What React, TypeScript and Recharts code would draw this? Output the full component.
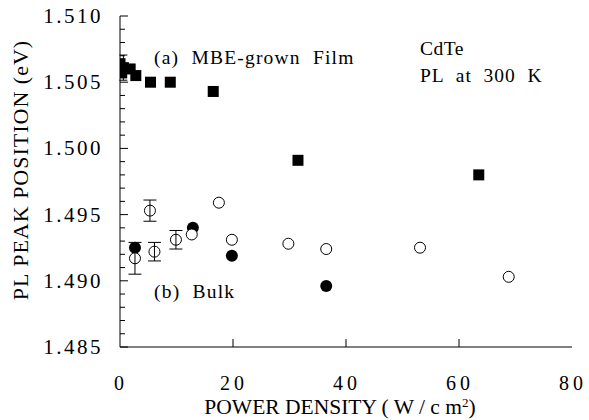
import React from 'react';
import { ScatterChart, Scatter, XAxis, YAxis, ErrorBar } from 'recharts';

const FONT = "'Liberation Serif', 'DejaVu Serif', serif";

// Axis ticks
const xTicks = [0, 20, 40, 60, 80];
const xMinorOnly = [20, 40, 60];
const yTicks = [
  1.485, 1.486, 1.487, 1.488, 1.489, 1.49, 1.491, 1.492, 1.493, 1.494, 1.495,
  1.496, 1.497, 1.498, 1.499, 1.5, 1.501, 1.502, 1.503, 1.504, 1.505, 1.506,
  1.507, 1.508, 1.509, 1.51,
];
const yLabelTicks = ['1.485', '1.490', '1.495', '1.500', '1.505', '1.510'];

// (a) MBE-grown film (filled squares)
const filmX = [0.0, 0.3, 1.8, 2.8, 5.4, 8.9, 16.5, 31.5, 63.5];
const filmY = [1.5064, 1.5057, 1.506, 1.5055, 1.505, 1.505, 1.5043, 1.4991, 1.498];
const filmErrX = [0.6];
const filmErrY = [1.5061];
const filmErrV = [0.00095];

// (b) Bulk: filled circles
const bulkFilledX = [2.65, 12.9, 19.8, 36.5];
const bulkFilledY = [1.4925, 1.494, 1.4919, 1.4896];

// (b) Bulk: open circles
const bulkOpenX = [12.7, 17.5, 19.8, 29.8, 36.5, 53.1, 68.8];
const bulkOpenY = [1.4935, 1.4959, 1.4931, 1.4928, 1.4924, 1.4925, 1.4903];

// (b) Bulk: open circles with error bars
const bulkErrX = [2.65, 5.3, 6.1, 9.9];
const bulkErrY = [1.4917, 1.4953, 1.4922, 1.4931];
const bulkErrV = [0.0012, 0.0008, 0.0007, 0.0007];

const film = filmX.map((x, i) => ({ x, y: filmY[i] }));
const filmErr = filmErrX.map((x, i) => ({ x, y: filmErrY[i], err: filmErrV[i] }));
const bulkFilled = bulkFilledX.map((x, i) => ({ x, y: bulkFilledY[i] }));
const bulkOpen = bulkOpenX.map((x, i) => ({ x, y: bulkOpenY[i] }));
const bulkErr = bulkErrX.map((x, i) => ({ x, y: bulkErrY[i], err: bulkErrV[i] }));

const SquareShape = (p: any) => (
  <rect x={p.cx - 5.5} y={p.cy - 5.5} width={11} height={11} fill="#000" />
);
const FilledCircle = (p: any) => <circle cx={p.cx} cy={p.cy} r={6} fill="#000" />;
const OpenCircle = (p: any) => (
  <circle cx={p.cx} cy={p.cy} r={5.5} fill="#fff" stroke="#000" strokeWidth={1} />
);
const OpenCircleBar = (p: any) => (
  <g>
    <circle cx={p.cx} cy={p.cy} r={5.5} fill="#fff" stroke="#000" strokeWidth={1} />
    <line x1={p.cx} x2={p.cx} y1={p.cy - 5.5} y2={p.cy + 5.5} stroke="#000" strokeWidth={1} />
  </g>
);

const isMajorY = (v: number) => Math.round(v * 1000) % 5 === 0;

const txt = { fontFamily: FONT } as React.CSSProperties;

const LeftTick = (p: any) => {
  const v = p.payload.value;
  const major = isMajorY(v);
  return (
    <g>
      <line x1={p.x} x2={p.x + (major ? 8 : 5)} y1={p.y} y2={p.y} stroke="#000" strokeWidth={1} />
      {major && (
        <text
          x={p.x - 17}
          y={p.y + 7}
          textAnchor="end"
          fontFamily="Liberation Serif"
          style={txt}
          fontSize={21}
          letterSpacing={2.5}
          fill="#000"
        >
          {yLabelTicks.find((s) => Math.abs(parseFloat(s) - v) < 1e-6)}
        </text>
      )}
    </g>
  );
};

const RightTick = (p: any) => {
  const v = p.payload.value;
  const major = isMajorY(v);
  return (
    <line x1={p.x} x2={p.x - (major ? 8 : 5)} y1={p.y} y2={p.y} stroke="#000" strokeWidth={1} />
  );
};

const BottomTick = (p: any) => {
  const v = p.payload.value;
  return (
    <g>
      {xMinorOnly.includes(v) && (
        <line x1={p.x} x2={p.x} y1={p.y} y2={p.y - 8} stroke="#000" strokeWidth={1} />
      )}
      <text
        x={p.x + 1}
        y={p.y + 43}
        textAnchor="middle"
        fontFamily="Liberation Serif"
        style={txt}
        fontSize={20}
        letterSpacing={4}
        fill="#000"
      >
        {String(v)}
      </text>
    </g>
  );
};

const TopTick = (p: any) => {
  const v = p.payload.value;
  if (!xMinorOnly.includes(v)) return <g />;
  return <line x1={p.x} x2={p.x} y1={p.y} y2={p.y + 8} stroke="#000" strokeWidth={1} />;
};

export default function App() {
  return (
    <div style={{ position: 'absolute', left: 0, top: 0, width: 589, height: 420, background: '#fff' }}>
      <ScatterChart
        width={589}
        height={420}
        margin={{ top: 16, right: 17, left: 0, bottom: 0 }}
      >
        <XAxis
          xAxisId="b"
          type="number"
          dataKey="x"
          orientation="bottom"
          domain={[0, 80]}
          ticks={xTicks}
          interval={0}
          height={73}
          tickSize={0}
          tickMargin={0}
          tickLine={false}
          axisLine={{ stroke: '#000', strokeWidth: 1 }}
          tick={BottomTick}
          allowDataOverflow
        />
        <XAxis
          xAxisId="t"
          type="number"
          orientation="top"
          domain={[0, 80]}
          ticks={xTicks}
          interval={0}
          height={0}
          tickSize={0}
          tickMargin={0}
          tickLine={false}
          axisLine={{ stroke: '#000', strokeWidth: 1 }}
          tick={TopTick}
          allowDataOverflow
        />
        <YAxis
          yAxisId="l"
          type="number"
          dataKey="y"
          orientation="left"
          domain={[1.485, 1.51]}
          ticks={yTicks}
          interval={0}
          width={120}
          tickSize={0}
          tickMargin={0}
          tickLine={false}
          axisLine={{ stroke: '#000', strokeWidth: 1 }}
          tick={LeftTick}
          allowDataOverflow
        />
        <YAxis
          yAxisId="r"
          type="number"
          orientation="right"
          domain={[1.485, 1.51]}
          ticks={yTicks}
          interval={0}
          width={0}
          tickSize={0}
          tickMargin={0}
          tickLine={false}
          axisLine={{ stroke: '#000', strokeWidth: 1 }}
          tick={RightTick}
          allowDataOverflow
        />
        <Scatter xAxisId="b" yAxisId="l" data={filmErr} shape={SquareShape} isAnimationActive={false}>
          <ErrorBar dataKey="err" direction="y" width={4} stroke="#000" strokeWidth={1} />
        </Scatter>
        <Scatter xAxisId="b" yAxisId="l" data={film} shape={SquareShape} isAnimationActive={false} />
        <Scatter xAxisId="b" yAxisId="l" data={bulkFilled} shape={FilledCircle} isAnimationActive={false} />
        <Scatter xAxisId="b" yAxisId="l" data={bulkOpen} shape={OpenCircle} isAnimationActive={false} />
        <Scatter xAxisId="b" yAxisId="l" data={bulkErr} shape={OpenCircleBar} isAnimationActive={false}>
          <ErrorBar dataKey="err" direction="y" width={6.5} stroke="#000" strokeWidth={1} />
        </Scatter>
      </ScatterChart>
      <svg
        width={589}
        height={420}
        style={{ position: 'absolute', left: 0, top: 0, pointerEvents: 'none' }}
        fontFamily="Liberation Serif"
      >
        <text x={154} y={64} fontSize={19.5} letterSpacing={1.2} fill="#000" style={{ ...txt, whiteSpace: 'pre' }}>
          {'(a)  MBE-grown  Film'}
        </text>
        <text x={154} y={298} fontSize={19.5} letterSpacing={1.2} fill="#000" style={{ ...txt, whiteSpace: 'pre' }}>
          {'(b)  Bulk'}
        </text>
        <text x={420} y={55} fontSize={19.5} letterSpacing={0.5} fill="#000" style={txt}>
          CdTe
        </text>
        <text x={420} y={82} fontSize={19.5} letterSpacing={1} fill="#000" style={{ ...txt, whiteSpace: 'pre' }}>
          {'PL  at  300  K'}
        </text>
        <text x={340} y={414} fontSize={21.5} fill="#000" textAnchor="middle" style={txt}>
          POWER DENSITY ( W / c m
          <tspan dy={-7} fontSize={13}>2</tspan>
          <tspan dy={7}>)</tspan>
        </text>
        <text
          x={0}
          y={0}
          fontSize={22}
          letterSpacing={1}
          fill="#000"
          textAnchor="middle"
          style={txt}
          transform="translate(28,170) rotate(-90)"
        >
          PL PEAK POSITION (eV)
        </text>
      </svg>
    </div>
  );
}
